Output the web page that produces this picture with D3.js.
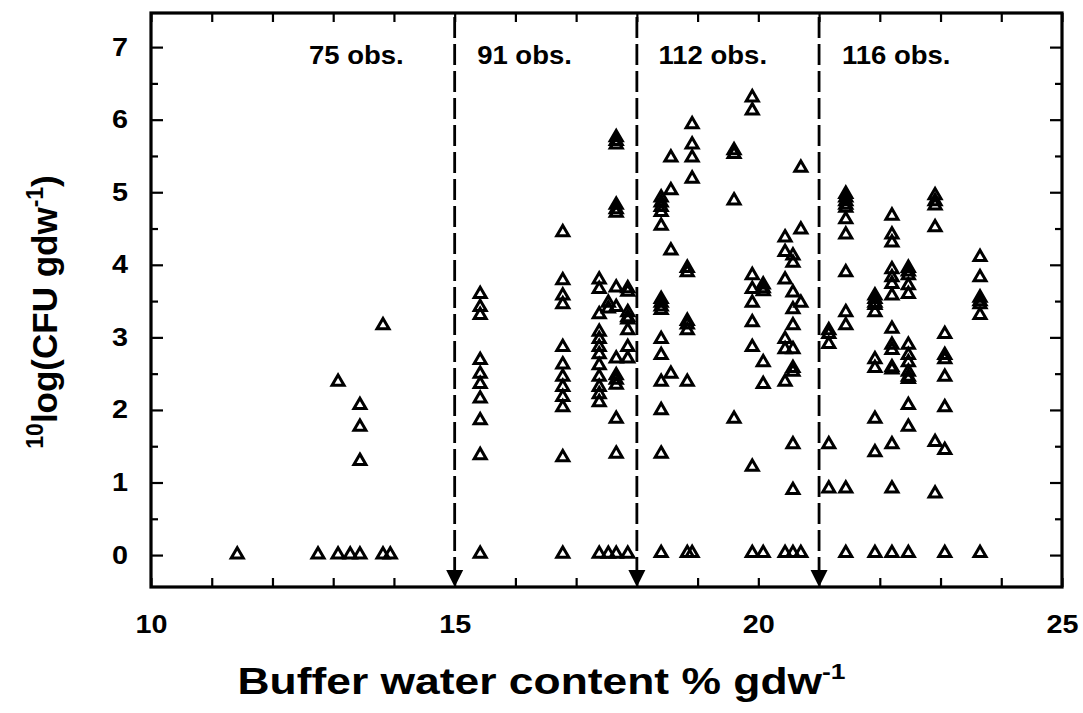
<!DOCTYPE html>
<html>
<head>
<meta charset="utf-8">
<script src="https://cdn.jsdelivr.net/npm/d3@7"></script>
<style>
  html, body { margin: 0; padding: 0; background: #fff; }
  svg { display: block; }
</style>
</head>
<body>
<svg id="chart"></svg>
<script>
// buffer water content (% gdw-1) of each column of points
const columnWater = [
    11.42, 12.75, 13.08, 13.28, 13.44, 13.82, 13.94,
    15.42, 16.78, 17.38, 17.53, 17.66, 17.85,
    18.40, 18.56, 18.83, 18.91, 19.60, 19.90, 20.08, 20.44, 20.57, 20.70,
    21.16, 21.44, 21.92, 22.20, 22.47, 22.91, 23.07, 23.65
]

// 10log(CFU gdw-1) read for each column
const columnLogCfu = [
    [0.03],
    [0.03],
    [2.41, 0.03],
    [0.03],
    [2.09, 1.79, 1.32, 0.03],
    [3.19, 0.03],
    [0.03],
    // 15 - 18
    [3.62, 3.44, 3.33, 2.71, 2.52, 2.38, 2.18, 1.88, 1.40, 0.04],
    [4.47, 3.81, 3.60, 3.48, 2.89, 2.65, 2.48, 2.34, 2.20, 2.06, 1.37, 0.04],
    [3.82, 3.69, 3.34, 3.10, 3.00, 2.89, 2.79, 2.64, 2.48, 2.34, 2.24, 2.13, 0.04],
    [3.50, 3.42, 0.04],
    [5.78, 5.73, 5.68, 4.85, 4.79, 4.74, 3.71, 3.44, 2.73, 2.50, 2.44, 2.37, 1.90, 1.42, 0.04],
    [3.70, 3.65, 3.37, 3.30, 3.27, 3.12, 2.89, 2.73, 0.04],
    // 18 - 21
    [4.95, 4.88, 4.82, 4.75, 4.56, 3.55, 3.50, 3.45, 3.40, 3.00, 2.78, 2.41, 2.02, 1.42, 0.05],
    [5.50, 5.05, 4.22, 2.52],
    [3.98, 3.92, 3.25, 3.20, 3.12, 2.41, 0.05],
    [5.96, 5.68, 5.50, 5.21, 0.05],
    [5.60, 5.55, 4.91, 1.90],
    [6.33, 6.15, 3.88, 3.69, 3.50, 3.23, 2.89, 1.24, 0.05],
    [3.75, 3.70, 3.66, 2.68, 2.38, 0.05],
    [4.40, 4.20, 3.82, 3.00, 2.86, 2.41, 0.05],
    [4.15, 4.05, 3.64, 3.41, 3.19, 2.86, 2.60, 2.55, 1.55, 0.92, 0.05],
    [5.36, 4.51, 3.50, 0.05],
    // 21 - 24
    [3.12, 3.07, 2.93, 1.55, 0.94],
    [5.00, 4.95, 4.90, 4.85, 4.81, 4.65, 4.44, 3.92, 3.37, 3.19, 0.94, 0.05],
    [3.60, 3.55, 3.50, 3.47, 3.37, 2.72, 2.60, 1.90, 1.44, 0.05],
    [4.70, 4.44, 4.33, 3.96, 3.85, 3.76, 3.60, 3.14, 2.92, 2.85, 2.61, 2.58, 1.55, 0.94, 0.05],
    [3.98, 3.93, 3.88, 3.74, 3.62, 2.92, 2.78, 2.68, 2.55, 2.48, 2.45, 2.09, 1.79, 0.05],
    [4.98, 4.90, 4.84, 4.54, 1.58, 0.87],
    [3.07, 2.78, 2.72, 2.48, 2.06, 1.47, 0.05],
    [4.13, 3.85, 3.57, 3.52, 3.48, 3.33, 0.05]
]

// class limits (dashed arrows) and the labels above each class
const classLimits = [15, 18, 21]
const obsLabels = ['75 obs.', '91 obs.', '112 obs.', '116 obs.']
const obsLabelWater = [13.38, 16.15, 19.25, 22.27]

const xTicks = d3.range(10, 26, 1)
const yTicks = d3.range(0, 7.01, 0.5)

const width = 1083
const height = 713
const font = '"Liberation Sans", Arial, Helvetica, sans-serif'

const svg = d3.select('#chart')
    .attr('width', width)
    .attr('height', height)
    .attr('font-family', font)
    .attr('font-weight', 'bold')

const x = d3.scaleLinear().domain([10, 25]).range([151, 1062])
const y = d3.scaleLinear().domain([-0.44, 7.47]).range([587, 13])

const [x0, x1] = x.range()
const [y0, y1] = y.range()

// axes, ticks point inward
const styleAxis = (g) => {
    g.select('.domain').remove()
    g.selectAll('.tick line').attr('stroke', '#000').attr('stroke-width', 2.2)
    g.selectAll('text')
        .attr('fill', '#000')
        .attr('font-size', 25)
        .attr('font-family', font)
        .attr('font-weight', 'bold')
        .attr('transform', 'scale(1.15,1)')
}

svg.append('g')
    .attr('transform', `translate(0,${y0})`)
    .call(d3.axisBottom(x).tickValues(xTicks).tickSize(-9).tickPadding(28)
        .tickFormat((d) => (d % 5 === 0 ? d : '')))
    .call(styleAxis)

svg.append('g')
    .attr('transform', `translate(0,${y1})`)
    .call(d3.axisTop(x).tickValues(xTicks).tickSize(-9).tickFormat(''))
    .call(styleAxis)

svg.append('g')
    .attr('transform', `translate(${x0},0)`)
    .call(d3.axisLeft(y).tickValues(yTicks).tickSize(-12).tickPadding(20)
        .tickFormat((d) => (Number.isInteger(d) ? d : '')))
    .call(styleAxis)
    .call((g) => g.selectAll('.tick line').filter((d) => !Number.isInteger(d)).attr('x2', 7))

svg.append('g')
    .attr('transform', `translate(${x1},0)`)
    .call(d3.axisRight(y).tickValues(yTicks).tickSize(-12).tickFormat(''))
    .call(styleAxis)
    .call((g) => g.selectAll('.tick line').filter((d) => !Number.isInteger(d)).attr('x2', -7))

// frame
svg.append('rect')
    .attr('x', x0)
    .attr('y', y1)
    .attr('width', x1 - x0)
    .attr('height', y0 - y1)
    .attr('fill', 'none')
    .attr('stroke', '#000')
    .attr('stroke-width', 3.2)

// dashed class limits with arrow heads on the x axis
const arrowH = 17
const limits = svg.append('g').selectAll('g').data(classLimits).join('g')

limits.append('line')
    .attr('x1', (d) => x(d))
    .attr('x2', (d) => x(d))
    .attr('y1', y1 + 4)
    .attr('y2', y0 - arrowH)
    .attr('stroke', '#000')
    .attr('stroke-width', 2.8)
    .attr('stroke-dasharray', '21,6')

limits.append('path')
    .attr('d', (d) => `M${x(d) - 8.5},${y0 - arrowH}L${x(d) + 8.5},${y0 - arrowH}L${x(d)},${y0}Z`)
    .attr('fill', '#000')

// open up-triangles
const triangleUp = {
    draw(context, size) {
        const w = size / 2
        const h = (size * 0.86) / 2
        context.moveTo(0, -h)
        context.lineTo(w, h)
        context.lineTo(-w, h)
        context.closePath()
    }
}

const points = columnWater.flatMap((w, i) => columnLogCfu[i].map((v) => ({ w, v })))

svg.append('g')
    .selectAll('path')
    .data(points)
    .join('path')
    .attr('transform', (d) => `translate(${x(d.w)},${y(d.v)})`)
    .attr('d', d3.symbol(triangleUp, 12))
    .attr('fill', 'none')
    .attr('stroke', '#000')
    .attr('stroke-width', 3)

// observation counts
svg.append('g')
    .selectAll('text')
    .data(obsLabels)
    .join('text')
    .attr('transform', (d, i) => `translate(${x(obsLabelWater[i])},${y(6.77)}) scale(1.1,1)`)
    .attr('text-anchor', 'middle')
    .attr('font-size', 25)
    .text((d) => d)

// x axis title
const xTitle = svg.append('text')
    .attr('transform', `translate(${width / 2},694) scale(1.2,1)`)
    .attr('text-anchor', 'middle')
    .attr('font-size', 37)
xTitle.append('tspan').text('Buffer water content % gdw')
xTitle.append('tspan').attr('font-size', 22).attr('dy', -15).text('-1')

// y axis title
const yTitle = svg.append('text')
    .attr('transform', `translate(57,${(y(3.5) + y(3.2)) / 2}) rotate(-90)`)
    .attr('text-anchor', 'middle')
    .attr('font-size', 35)
yTitle.append('tspan').attr('font-size', 23).attr('dy', -14).text('10')
yTitle.append('tspan').attr('dy', 14).text('log(CFU gdw')
yTitle.append('tspan').attr('font-size', 23).attr('dy', -14).text('-1')
yTitle.append('tspan').attr('dy', 14).text(')')
</script>
</body>
</html>
